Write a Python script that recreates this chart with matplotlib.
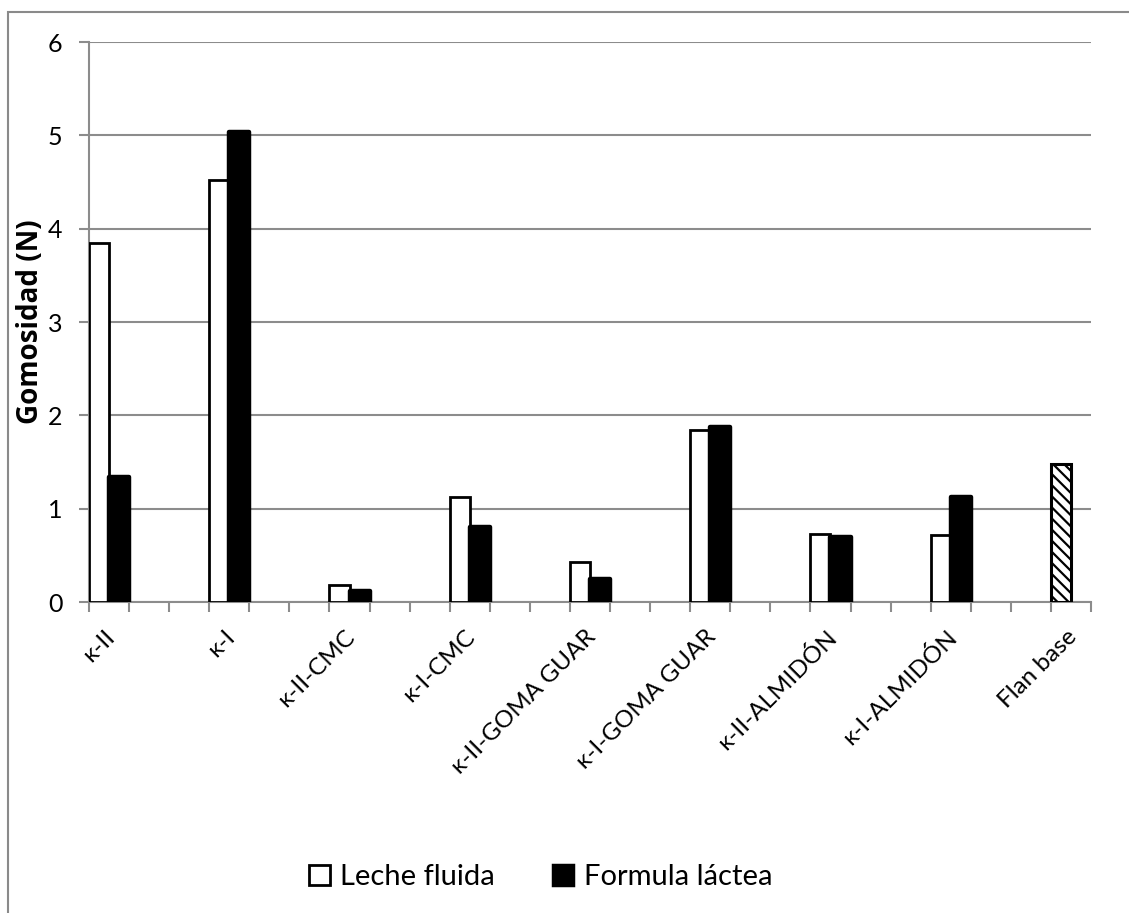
import numpy as np
import matplotlib
matplotlib.use("Agg")
import matplotlib.pyplot as plt
from matplotlib.patches import Rectangle
from matplotlib.transforms import ScaledTranslation

# Gumminess (N) per formulation
categories = ["κ-II", "κ-I", "κ-II-CMC", "κ-I-CMC", "κ-II-GOMA GUAR",
              "κ-I-GOMA GUAR", "κ-II-ALMIDÓN", "κ-I-ALMIDÓN", "Flan base"]
leche_fluida = [3.85, 4.52, 0.18, 1.12, 0.425, 1.84, 0.73, 0.72, 1.48]
formula_lactea = [1.34, 5.04, 0.12, 0.80, 0.25, 1.87, 0.70, 1.12, np.nan]
y_ticks = [0, 1, 2, 3, 4, 5, 6]
series_names = ["Leche fluida", "Formula láctea"]

plt.rcParams["font.family"] = ["Lato", "DejaVu Sans"]
plt.rcParams["hatch.linewidth"] = 1.6

W, H = 1129, 913
fig = plt.figure(figsize=(W / 100, H / 100), dpi=100)

# outer chart frame
fig.patches.append(Rectangle((8 / W, -0.1), 1.2, 1 - 12 / H + 0.1,
                             transform=fig.transFigure, fill=False,
                             edgecolor="#8a8a8a", linewidth=1.5, zorder=0))

ax = fig.add_axes([89 / W, 1 - 602 / H, (1091 - 89) / W, (602 - 42) / H])

grey = "#8c8c8c"
slot = 3                      # each group sits in every third slot
n_slots = slot * (len(categories) - 1) + 1
idx = np.arange(len(categories)) * slot

ax.set_axisbelow(True)
ax.yaxis.grid(True, color=grey, linewidth=1.5)

for i, (a, b) in enumerate(zip(leche_fluida, formula_lactea)):
    if categories[i] == "Flan base":
        ax.bar(idx[i] + 0.25, a, width=0.5, facecolor="white",
               edgecolor="black", hatch="\\\\\\", linewidth=2.2, zorder=3)
    else:
        ax.bar(idx[i] + 0.25, a, width=0.5, facecolor="white",
               edgecolor="black", linewidth=2.0, zorder=3)
    if not np.isnan(b):
        ax.bar(idx[i] + 0.75, b, width=0.5, facecolor="black",
               edgecolor="black", linewidth=3.2, joinstyle="round", zorder=4)

ax.set_xlim(0, n_slots)
ax.set_ylim(0, 6)
ax.set_yticks(y_ticks)
ax.set_yticklabels([str(v) for v in y_ticks], fontsize=18)

ax.set_xticks(np.arange(0, n_slots + 1))
ax.set_xticklabels([])
ax.set_xticks(idx + 0.5, categories, minor=True, rotation=45,
              ha="right", rotation_mode="anchor", fontsize=17.5)
ax.tick_params(axis="x", which="minor", length=0, pad=13)
ax.tick_params(axis="x", which="major", length=7, width=1.5, color=grey,
               direction="out")
ax.tick_params(axis="y", length=7, width=1.5, color=grey, pad=12)

# nudge the slanted category labels so they end just under each group
shift = ScaledTranslation(-0.05, -0.06, fig.dpi_scale_trans)
for tick in ax.xaxis.get_minor_ticks():
    tick.label1.set_transform(tick.label1.get_transform() + shift)

for s in ["top", "right"]:
    ax.spines[s].set_visible(False)
for s in ["left", "bottom"]:
    ax.spines[s].set_color(grey)
    ax.spines[s].set_linewidth(1.5)

ax.set_ylabel("Gomosidad (N)", fontsize=20, fontweight="bold",
              family=["Open Sans", "DejaVu Sans"])
ax.yaxis.set_label_coords(-0.044, 0.5)

handles = [Rectangle((0, 0), 1, 1, facecolor="white", edgecolor="black", linewidth=2),
           Rectangle((0, 0), 1, 1, facecolor="black", edgecolor="black", linewidth=2.5)]
fig.legend(handles, series_names, loc="center", bbox_to_anchor=(0.479, 0.039),
           ncol=2, frameon=False, fontsize=21, handlelength=0.7,
           handleheight=0.7, handletextpad=0.35, columnspacing=2.0)

fig.savefig("out.png", dpi=100)
